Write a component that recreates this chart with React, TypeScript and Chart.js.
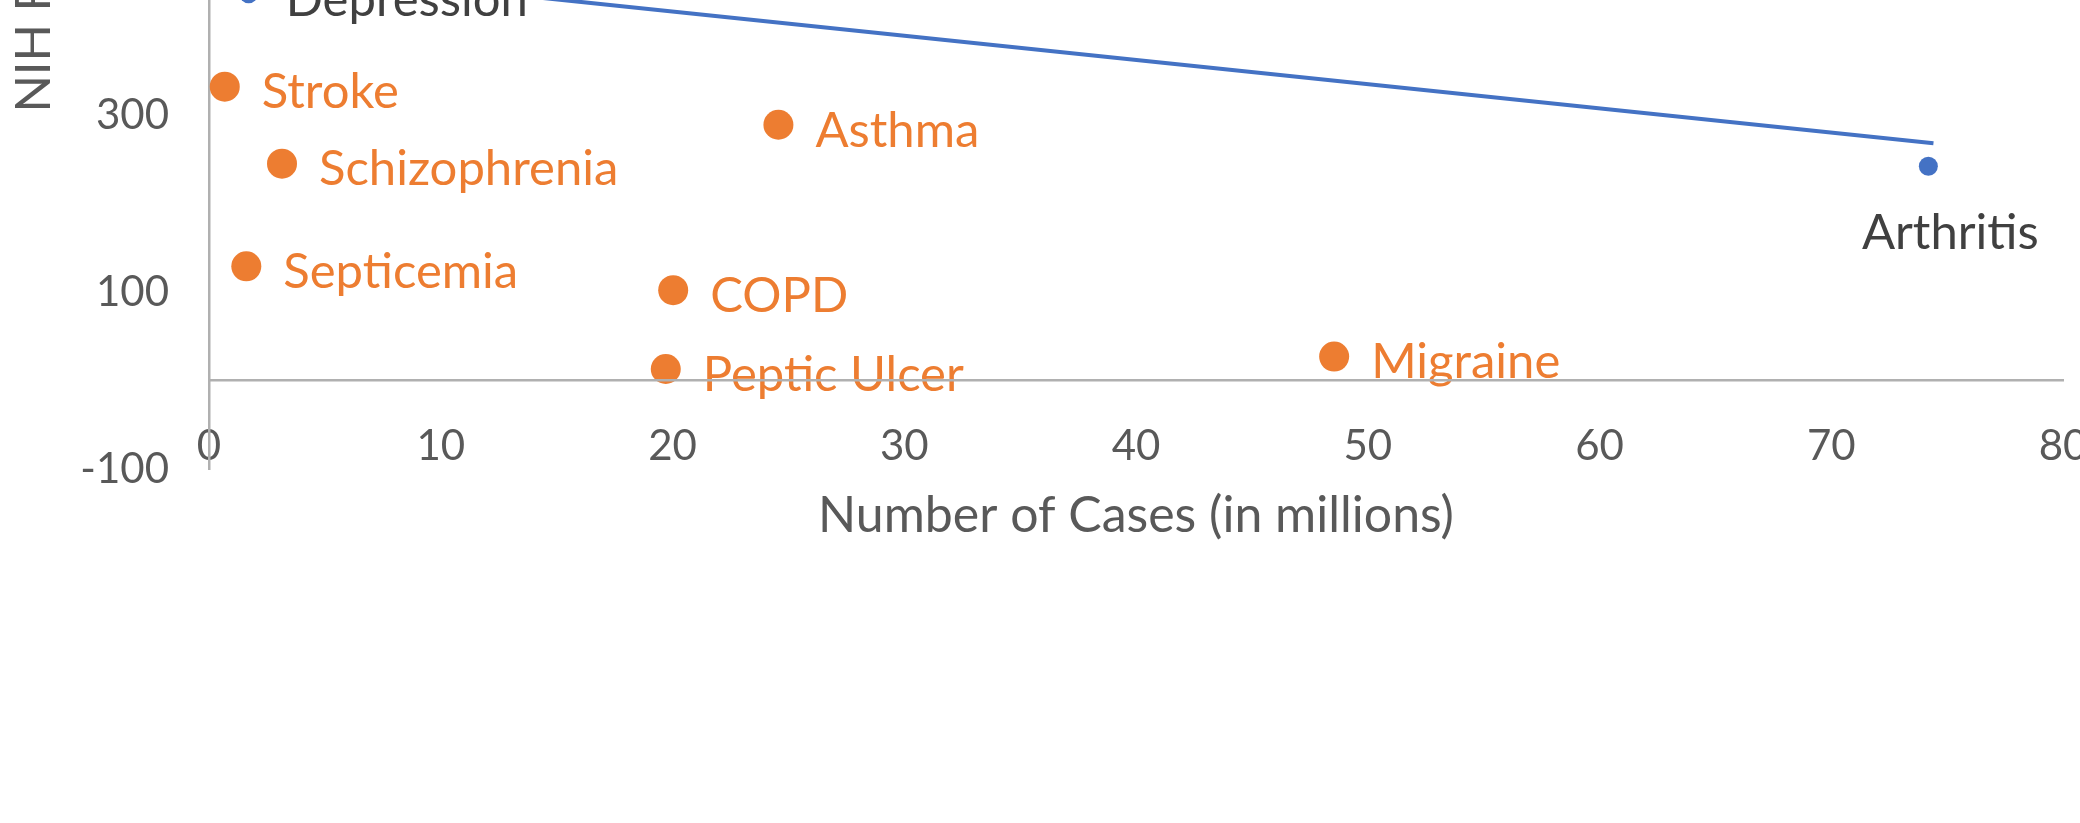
import React, { useEffect, useRef } from 'react';
import { Chart, registerables } from 'chart.js';

Chart.register(...registerables);

// ---- data ----
const orangeNames = ['Stroke', 'Schizophrenia', 'Septicemia', 'Asthma', 'COPD', 'Peptic Ulcer', 'Migraine'];
const orangeCases = [0.68, 3.15, 1.61, 24.57, 20.03, 19.71, 48.55];
const orangeFunding = [332, 245, 129, 289, 102, 13, 27];

const blueNames = ['Depression', 'Arthritis'];
const blueCases = [1.71, 74.19];
const blueFunding = [437, 242];

const trendCases = [1.71, 74.41];
const trendFunding = [467, 268];

const xTicks = [0, 10, 20, 30, 40, 50, 60, 70, 80];
const yTicks = [-100, 100, 300, 500, 700, 900, 1100, 1300];

const xTitle = 'Number of Cases (in millions)';
const yTitle = 'NIH Funding (in millions)';

// label placement keywords (not positions)
const orangePlacement = ['right', 'right', 'right', 'right', 'right', 'right', 'right'];
const bluePlacement = ['right', 'below'];

// ---- styles ----
const ORANGE = '#ED7D31';
const BLUE = '#4472C4';
const AXIS = '#B0B0B0';
const TEXT = '#595959';
const DARK = '#404040';
const FONT = 'Lato';

const labelSets = [
  null,
  { names: orangeNames, placement: orangePlacement, color: ORANGE },
  { names: blueNames, placement: bluePlacement, color: DARK },
];

const pointLabels = {
  id: 'pointLabels',
  afterDatasetsDraw(chart: any) {
    const ctx = chart.ctx;
    chart.data.datasets.forEach((_ds: any, di: number) => {
      const set = labelSets[di];
      if (!set) return;
      const meta = chart.getDatasetMeta(di);
      meta.data.forEach((pt: any, i: number) => {
        ctx.save();
        ctx.font = `49px ${FONT}`;
        ctx.fillStyle = set.color;
        ctx.textBaseline = 'middle';
        if (set.placement[i] === 'below') {
          ctx.textAlign = 'center';
          ctx.fillText(set.names[i], pt.x + 22, pt.y + 67);
        } else {
          ctx.textAlign = 'left';
          ctx.fillText(set.names[i], pt.x + 37, pt.y + 6);
        }
        ctx.restore();
      });
    });
  },
};

export default function App() {
  const ref = useRef<HTMLCanvasElement>(null);

  useEffect(() => {
    const canvas = ref.current!;
    const chart = new Chart(canvas, {
      type: 'scatter',
      data: {
        datasets: [
          {
            label: 'Trend',
            data: trendCases.map((x, i) => ({ x, y: trendFunding[i] })),
            showLine: true,
            borderColor: BLUE,
            backgroundColor: BLUE,
            borderWidth: 4,
            pointRadius: 0,
          },
          {
            label: 'Other',
            data: orangeCases.map((x, i) => ({ x, y: orangeFunding[i] })),
            backgroundColor: ORANGE,
            borderWidth: 0,
            pointRadius: 15,
          },
          {
            label: 'Blue',
            data: blueCases.map((x, i) => ({ x, y: blueFunding[i] })),
            backgroundColor: BLUE,
            borderWidth: 0,
            pointRadius: 9.5,
          },
        ],
      } as any,
      options: {
        responsive: false,
        animation: false,
        devicePixelRatio: 1,
        layout: { padding: { left: 0, right: 137, top: 30, bottom: 131 } },
        plugins: { legend: { display: false }, tooltip: { enabled: false } },
        scales: {
          x: {
            type: 'linear',
            position: { y: 0 } as any,
            min: 0,
            max: 80,
            afterBuildTicks: (s: any) => {
              s.ticks = xTicks.map((v) => ({ value: v }));
            },
            afterFit: (s: any) => {
              s.paddingLeft = 0;
              s.paddingRight = 0;
            },
            grid: { display: false, drawTicks: false },
            border: { display: true, color: AXIS, width: 2.5, z: 1 } as any,
            ticks: {
              font: { family: FONT, size: 42 },
              color: TEXT,
              padding: 41,
              maxRotation: 0,
              autoSkip: false,
            },
            title: {
              display: true,
              text: xTitle,
              font: { family: FONT, size: 50 },
              color: TEXT,
              padding: { top: -27, bottom: 0 },
            },
          },
          y: {
            type: 'linear',
            position: 'left',
            min: -100,
            max: 1300,
            afterBuildTicks: (s: any) => {
              s.ticks = yTicks.map((v) => ({ value: v }));
            },
            afterFit: (s: any) => {
              s.width = 209;
              s.paddingTop = 0;
              s.paddingBottom = 0;
            },
            grid: { display: false, drawTicks: false },
            border: { display: true, color: AXIS, width: 2.5 },
            ticks: {
              font: { family: FONT, size: 42 },
              color: TEXT,
              padding: 40,
            },
            title: {
              display: true,
              text: yTitle,
              font: { family: FONT, size: 49 },
              color: TEXT,
              padding: { top: 5, bottom: 0 },
            },
          },
        },
      } as any,
      plugins: [pointLabels],
    });
    return () => chart.destroy();
  }, []);

  return (
    <div
      style={{
        position: 'fixed',
        left: 0,
        top: 0,
        width: 2080,
        height: 823,
        overflow: 'hidden',
        background: '#ffffff',
      }}
    >
      <canvas
        ref={ref}
        width={2200}
        height={1400}
        style={{ position: 'absolute', left: 0, top: -800, width: 2200, height: 1400 }}
      />
    </div>
  );
}
